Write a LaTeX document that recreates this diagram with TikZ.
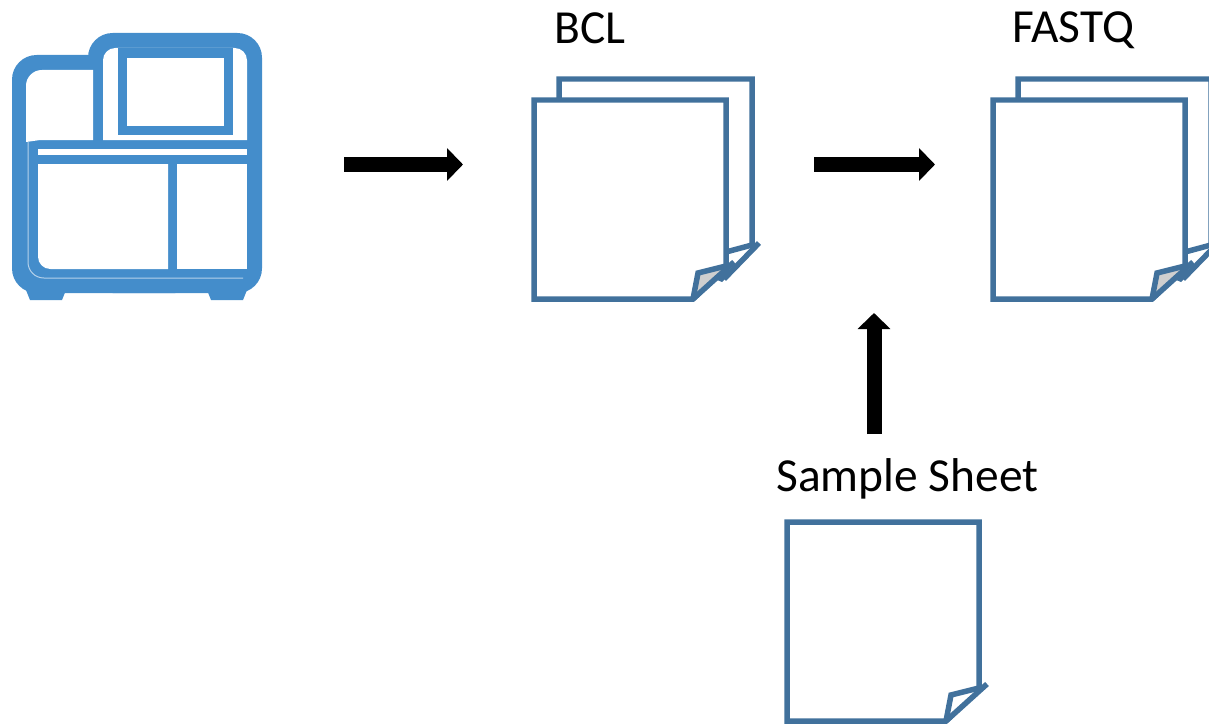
\documentclass[tikz,border=0pt]{standalone}
\usepackage{fontspec}
\setmainfont{Carlito}
\usetikzlibrary{arrows.meta,calc,positioning}
\definecolor{iconblue}{HTML}{448DCB}
\definecolor{sheetblue}{HTML}{41719C}
\definecolor{flapgray}{HTML}{CFCFCF}
\tikzset{
	sheet/.style={line width=0.11cm, draw=sheetblue, fill=white, miter limit=10},
	bigarrow/.style={line width=0.3cm, black, -{Triangle[length=0.32cm,width=0.64cm]}},
	filelabel/.style={font=\fontsize{27}{32}\selectfont, anchor=base west, inner sep=0pt},
	iconhole/.style={fill=white, draw=none}
}
% front page of a file, folded corner at the lower right
\newcommand{\frontsheet}[3]{
	\draw [sheet] (#1,#2) -- ++(192,0) -- ++(0,167) -- ++(-33,32) -- ++(-159,0) -- cycle;
	\draw [sheet, fill=#3] ($(#1,#2)+(159,199)$) -- ++(5,-26) -- ++(28,-7);
	\draw [sheet, line cap=butt] ($(#1,#2)+(159,199)$) -- ++(41,-37);
}
% page lying behind the front one
\newcommand{\backsheet}[2]{
	\draw [sheet] (#1,#2) -- ++(0,-21) -- ++(193,0) -- ++(0,166) -- ++(-26,7) -- ++(0,22);
	\draw [sheet, line cap=butt] ($(#1,#2)+(200,143)$) -- ++(-35,36);
	\fill [sheetblue] ($(#1,#2)+(166,166)$) -- ++(3,10) -- ++(-6,6) -- ++(-5,-2) -- cycle;
}
\begin{document}
\begin{tikzpicture}[x=0.02cm, y=-0.02cm]
	\useasboundingbox (0,0) rectangle (1209,723);
	% instrument icon
	\begin{scope}
		\clip (0,0) rectangle (1209,300);
		\fill [iconblue, rounded corners=14] (12,55) rectangle (200,293);
		\fill [iconblue, rounded corners=14] (88,33) rectangle (262,293);
		\fill [iconblue] (24,285) -- (68,285) -- (62,300) -- (30,300) -- cycle;
		\fill [iconblue] (205,285) -- (249,285) -- (243,300) -- (211,300) -- cycle;
		\fill [iconhole] (26,142) [rounded corners=9] -- (26,70) [sharp corners] -- (93,70) -- (93,140) -- (40,140) -- cycle;
		\fill [iconhole] (103,140) [rounded corners=7] -- (103,48) -- (247,48) [sharp corners] -- (247,140) -- cycle;
		\fill [iconblue] (118,48) rectangle (233,135);
		\fill [iconhole] (127,58) rectangle (224,126);
		\fill [iconhole] (38,149) rectangle (247,155);
		\fill [iconhole] (38,164) [rounded corners=7] -- (38,269) [sharp corners] -- (168,269) -- (168,164) -- cycle;
		\fill [iconhole] (177,164) rectangle (247,269);
		\draw [white, line width=0.02cm, rounded corners=9, opacity=0.6] (28,142) -- (28,278) -- (243,278);
	\end{scope}
	% files
	\backsheet{559}{100}
	\frontsheet{534}{100}{flapgray}
	\backsheet{1018}{100}
	\frontsheet{993}{100}{flapgray}
	\frontsheet{787}{522}{white}
	% labels
	\node [filelabel] (bcl) at (554,44) {BCL};
	\node [filelabel] (fastq) at (1012,43) {FASTQ};
	\node [filelabel] (samplesheet) at (776,491) {Sample Sheet};
	% arrows
	\coordinate (iconout) at (344,164.5);
	\coordinate (bclin) at (463,164.5);
	\coordinate (bclout) at (814,164.5);
	\coordinate (fastqin) at (935,164.5);
	\coordinate (sheetout) at (874,434);
	\coordinate (mergein) at (874,313);
	\draw [bigarrow] (iconout) -- (bclin);
	\draw [bigarrow] (bclout) -- (fastqin);
	\draw [bigarrow] (sheetout) -- (mergein);
\end{tikzpicture}
\end{document}
